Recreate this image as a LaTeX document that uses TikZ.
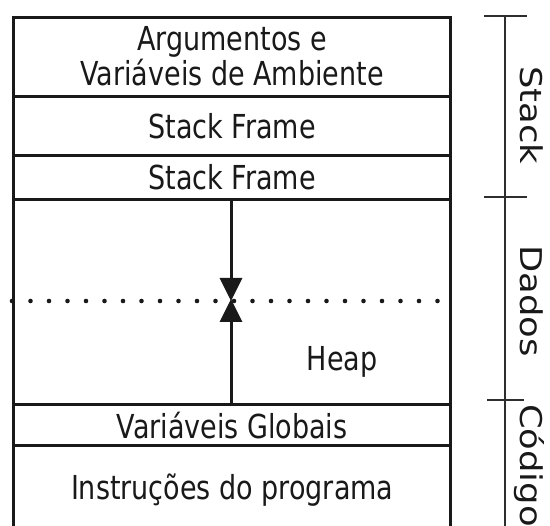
\documentclass[tikz,border=0pt]{standalone}
\usepackage{fontspec}
\usepackage{graphicx}
\setmainfont{DejaVu Sans Condensed}
\usetikzlibrary{arrows.meta}
% text drawn slightly taller than its natural shape
\newcommand\tallbox[1]{\scalebox{1}[1.1]{#1}}
% side labels drawn longer along their reading direction
\newcommand\longbox[1]{\scalebox{1.31}[1]{#1}}
\begin{document}
\begin{tikzpicture}[x=1pt,y=-1pt,
  region/.style={draw=black!90, line width=3.4pt, minimum width=437pt,
    inner sep=0pt, anchor=north west, align=center},
  txt/.style={font=\fontsize{30}{27}\selectfont, text=black!90},
  bracket/.style={draw=black!82, line width=1.5pt},
  growarrow/.style={draw=black!90, line width=3pt,
    -{Triangle[length=23pt,width=22pt]}, shorten >=-1pt},
  dotline/.style={draw=black!90, line width=4.6pt, line cap=round,
    dash pattern=on 0pt off 18.5pt},
  sidelabel/.style={txt, rotate=-90, anchor=base, inner sep=0pt}]
\useasboundingbox (0,0) rectangle (550,526);

% memory layout, top to bottom
\node[region, txt, minimum height=79pt] (args) at (12,16)
  {\raisebox{-3pt}[\height][\depth]{\tallbox{\begin{tabular}{@{}c@{}}Argumentos e\\Variáveis de Ambiente\end{tabular}}}};
\node[region, txt, minimum height=59pt] (frameA) at (12,95) {\tallbox{Stack Frame}};
\node[region, txt, minimum height=44pt] (frameB) at (12,154) {\tallbox{Stack Frame}};
\node[region, minimum height=205pt] (heap) at (12,198) {};
\node[region, txt, minimum height=41pt] (globals) at (12,403) {\tallbox{Variáveis Globais}};
\node[region, txt, minimum height=88pt] (code) at (12,444) {\tallbox{Instruções do programa}};
\node[txt] (heaplbl) at (342,362) {\tallbox{Heap}};

% boundary between stack and heap growth
\coordinate (divL) at (12,301);
\coordinate (divR) at (449,301);
\draw[dotline] (divL) -- (divR);
\coordinate (meet) at (231,300);
\draw[growarrow] (frameB.south -| meet) -- (meet);
\draw[growarrow] (globals.north -| meet) -- (meet);

% segment brackets
\coordinate (s0) at (505,16);
\coordinate (s1) at (505,197);
\coordinate (s2) at (505,400);
\coordinate (s3) at (505,540);
\draw[bracket] (s0) -- (s3);
\draw[bracket] ([xshift=-21pt]s0) -- ([xshift=22pt]s0);
\draw[bracket] ([xshift=-21pt]s1) -- ([xshift=22pt]s1);
\draw[bracket] ([xshift=-18pt]s2) -- ([xshift=19pt]s2);
\node[sidelabel] (lstack) at (520,115.5) {\longbox{Stack}};
\node[sidelabel] (ldados) at (520,301) {\longbox{Dados}};
\node[sidelabel] (lcode) at (520,465.5) {\longbox{Código}};
\end{tikzpicture}
\end{document}
